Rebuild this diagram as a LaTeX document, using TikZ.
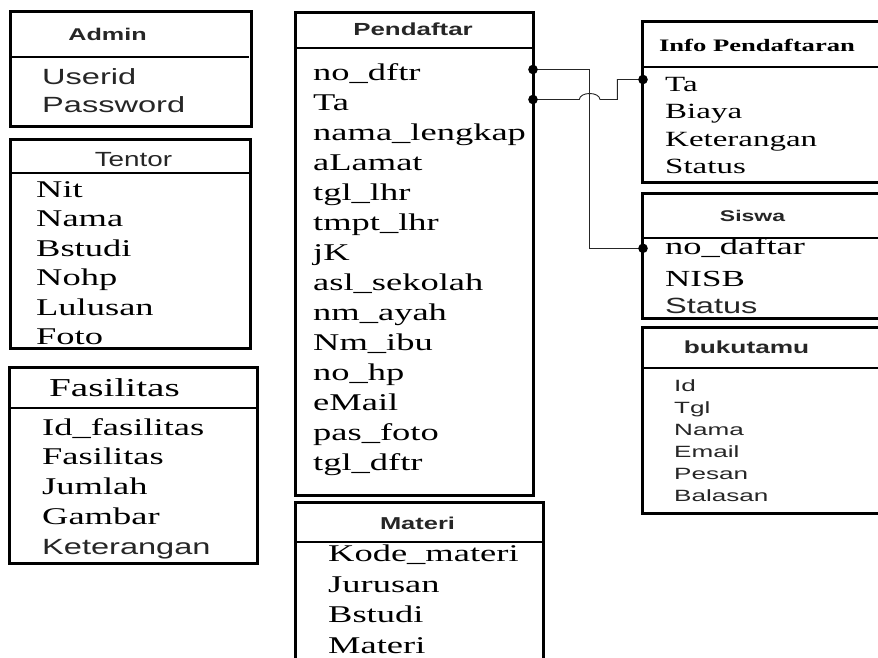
\documentclass[tikz,border=0pt]{standalone}
\usepackage{fontspec}
\usepackage{graphicx}
\setmainfont{Liberation Serif}
\newfontfamily\arial{Liberation Sans}
% labels are set wide: glyphs are stretched horizontally
\newcommand\wide[2][1.52]{\scalebox{#1}[1]{#2}}
\newcommand\fsz[1]{\fontsize{#1}{#1}\selectfont}
\definecolor{sanscol}{gray}{0.15}
\tikzset{
  tablebox/.style={draw=black,line width=3pt},
  headrule/.style={draw=black,line width=2.2pt},
  item/.style={anchor=base west,inner sep=0pt},
  ttl/.style={anchor=base,inner sep=0pt},
  conn/.style={draw=black!85,line width=0.9pt},
  dot/.style={fill=black},
}
\begin{document}
\begin{tikzpicture}[x=1pt,y=-1pt]
\clip (0,0) rectangle (878,657);
\fill[white] (0,0) rectangle (878,657);

% ---------- Admin ----------
\draw[tablebox] (10,11) rectangle (251,126);
\draw[headrule] (10,57) -- (249,57);
\node[ttl,font=\arial\bfseries\fsz{17},text=sanscol] (ad-t) at (107.5,40) {\wide[1.48]{Admin}};
\node[item,font=\arial\fsz{22},text=sanscol] (ad-1) at (42,84) {\wide[1.48]{Userid}};
\node[item,font=\arial\fsz{22},text=sanscol] (ad-2) at (42,112) {\wide[1.48]{Password}};

% ---------- Tentor ----------
\draw[tablebox] (10,139) rectangle (250,348);
\draw[headrule] (10,173) -- (250,173);
\node[ttl,font=\arial\fsz{20.5},text=sanscol] (te-t) at (133.5,166.7) {\wide[1.36]{Tentor}};
\foreach \t [count=\i] in {Nit,Nama,Bstudi,Nohp,Lulusan,Foto}
  \node[item,font=\fsz{24}] (te-\i) at (36,{197+29.5*(\i-1)}) {\wide{\t}};

% ---------- Fasilitas ----------
\draw[tablebox] (9,367) rectangle (257,563);
\draw[headrule] (9,408) -- (257,408);
\node[ttl,font=\fsz{25.8}] (fa-t) at (114.5,396.7) {\wide{Fasilitas}};
\foreach \t [count=\i] in {Id\_fasilitas,Fasilitas,Jumlah,Gambar}
  \node[item,font=\fsz{24}] (fa-\i) at (42,{435+29.8*(\i-1)}) {\wide{\t}};
\node[item,font=\arial\fsz{22},text=sanscol] (fa-5) at (42,554.2) {\wide[1.48]{Keterangan}};

% ---------- Pendaftar ----------
\draw[tablebox] (295,12) rectangle (533,495);
\draw[headrule] (295,48) -- (533,48);
\node[ttl,font=\arial\bfseries\fsz{17.5},text=sanscol] (pd-t) at (413,35) {\wide[1.48]{Pendaftar}};
\foreach \t [count=\i] in {no\_dftr,Ta,nama\_lengkap,aLamat,tgl\_lhr,tmpt\_lhr,jK,
    asl\_sekolah,nm\_ayah,Nm\_ibu,no\_hp,eMail,pas\_foto,tgl\_dftr}
  \node[item,font=\fsz{24}] (pd-\i) at (313,{80.5+30*(\i-1)}) {\wide{\t}};

% ---------- Materi ----------
\draw[tablebox] (295,700) -- (295,502) -- (543,502) -- (543,700);
\draw[headrule] (295,542) -- (543,542);
\node[ttl,font=\arial\bfseries\fsz{17.2},text=sanscol] (mt-t) at (417.5,529) {\wide[1.48]{Materi}};
\foreach \t [count=\i] in {Kode\_materi,Jurusan,Bstudi,Materi}
  \node[item,font=\fsz{24}] (mt-\i) at (328,{561.7+30.6*(\i-1)}) {\wide{\t}};

% ---------- Info Pendaftaran ----------
\draw[tablebox] (642,21) rectangle (900,182);
\draw[headrule] (642,67) -- (900,67);
\node[ttl,font=\bfseries\fsz{17.5}] (ip-t) at (757,51.7) {\wide{Info Pendaftaran}};
\foreach \t [count=\i] in {Ta,Biaya,Keterangan,Status}
  \node[item,font=\fsz{21.7}] (ip-\i) at (665,{91.7+27.2*(\i-1)}) {\wide{\t}};

% ---------- Siswa ----------
\draw[tablebox] (642,193) rectangle (900,318);
\draw[headrule] (642,238) -- (900,238);
\node[ttl,font=\arial\bfseries\fsz{15.5},text=sanscol] (sw-t) at (752.5,221.7) {\wide[1.48]{Siswa}};
\node[item,font=\fsz{24}] (sw-1) at (665,254) {\wide{no\_daftar}};
\node[item,font=\fsz{23}] (sw-2) at (665,286.7) {\wide{NISB}};
\node[item,font=\arial\fsz{22},text=sanscol] (sw-3) at (665,313.3) {\wide[1.48]{Status}};

% ---------- bukutamu ----------
\draw[tablebox] (642,327) rectangle (900,513);
\draw[headrule] (642,368) -- (900,368);
\node[ttl,font=\arial\bfseries\fsz{17.5},text=sanscol] (bt-t) at (746.5,353.3) {\wide[1.5]{bukutamu}};
\foreach \t [count=\i] in {Id,Tgl,Nama,Email,Pesan,Balasan}
  \node[item,font=\arial\fsz{16.3},text=sanscol] (bt-\i) at (674,{391.7+22*(\i-1)}) {\wide[1.6]{\t}};

% ---------- relations ----------
\coordinate (pdA) at (533,69.5);
\coordinate (pdB) at (533,99.5);
\coordinate (swA) at (643,248.3);
\coordinate (ipA) at (643,79.5);
\coordinate (j1) at (579.3,99.5);
\coordinate (j2) at (600,99.5);
\coordinate (st) at (617.3,99.5);

% no_dftr -> Siswa.no_daftar
\draw[conn] (pdA) -- ++(56.3,0) |- (swA);
% Ta -> Info Pendaftaran.Ta, hopping over the line above
\draw[conn] (pdB) -- (j1) .. controls (580,91.5) and (599.3,91.5) .. (j2) -- (st) |- (ipA);

\fill[dot] (pdA) circle[radius=4.8pt];
\fill[dot] (pdB) circle[radius=4.8pt];
\fill[dot] (swA) circle[radius=4.8pt];
\fill[dot] (ipA) circle[radius=4.8pt];
\end{tikzpicture}
\end{document}
